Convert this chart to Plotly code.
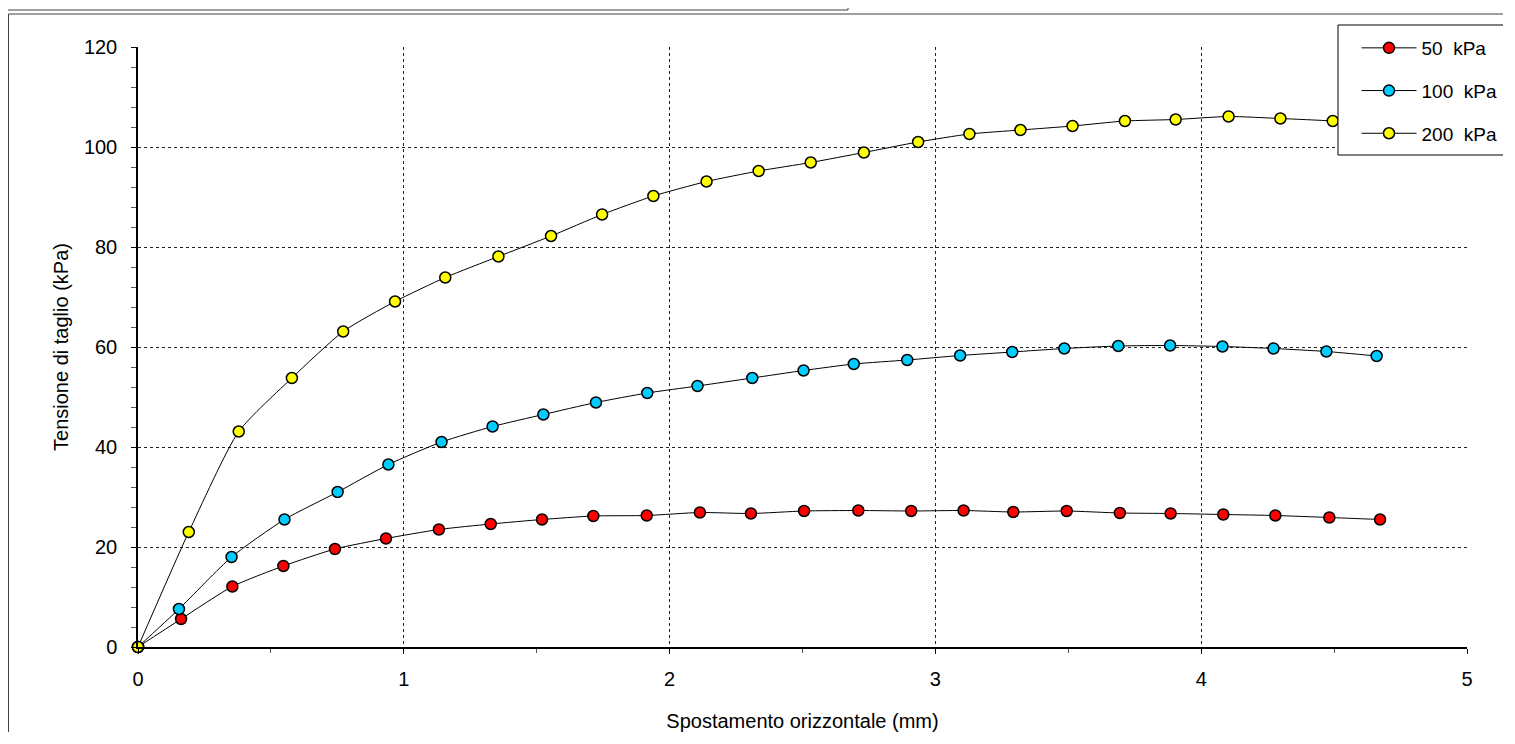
import plotly.graph_objects as go

# ---- data ----
x_50 = [0, 0.162, 0.355, 0.547, 0.741, 0.933, 1.132, 1.327, 1.520, 1.713, 1.914, 2.114, 2.306,
        2.506, 2.710, 2.909, 3.106, 3.293, 3.494, 3.694, 3.885, 4.083, 4.279, 4.482, 4.673]
y_50 = [0, 5.6, 12.1, 16.2, 19.6, 21.7, 23.5, 24.6, 25.5, 26.2, 26.3, 26.9, 26.7,
        27.2, 27.3, 27.2, 27.3, 27.0, 27.2, 26.8, 26.7, 26.5, 26.3, 25.9, 25.5]

x_100 = [0, 0.154, 0.352, 0.551, 0.751, 0.942, 1.142, 1.334, 1.525, 1.723, 1.916, 2.105, 2.311,
         2.504, 2.693, 2.894, 3.093, 3.289, 3.485, 3.688, 3.883, 4.080, 4.272, 4.471, 4.660]
y_100 = [0, 7.6, 18.0, 25.5, 31.0, 36.5, 41.0, 44.1, 46.5, 48.9, 50.8, 52.2, 53.8,
         55.3, 56.6, 57.4, 58.3, 59.0, 59.7, 60.2, 60.3, 60.1, 59.7, 59.1, 58.2]

x_200 = [0, 0.191, 0.379, 0.579, 0.772, 0.967, 1.156, 1.356, 1.554, 1.746, 1.939, 2.139, 2.335,
         2.531, 2.731, 2.935, 3.128, 3.320, 3.516, 3.713, 3.904, 4.103, 4.298, 4.495, 4.690]
y_200 = [0, 23.0, 43.1, 53.8, 63.1, 69.1, 73.9, 78.1, 82.2, 86.5, 90.2, 93.1, 95.2,
         96.9, 98.9, 101.0, 102.6, 103.4, 104.2, 105.2, 105.5, 106.1, 105.7, 105.2, 104.4]

series_names = ["50  kPa", "100  kPa", "200  kPa"]
series_colors = ["#FF0000", "#00CCFF", "#FFFF00"]
x_ticks = [0, 1, 2, 3, 4, 5]
y_ticks = [0, 20, 40, 60, 80, 100, 120]

FONT = "Arial, 'Liberation Sans', sans-serif"

fig = go.Figure()
for xs, ys, name, col in zip([x_50, x_100, x_200], [y_50, y_100, y_200], series_names, series_colors):
    fig.add_trace(go.Scatter(
        x=xs, y=ys, name=name, mode="lines+markers",
        line=dict(color="black", width=1, shape="spline", smoothing=0.6),
        marker=dict(color=col, size=11, line=dict(color="black", width=1.5)),
        cliponaxis=False, legendgroup=name,
    ))

# the page body has an 8px margin, so page coordinates = figure coordinates + 8
OFF = 8
W, H = 1495, 724
PX_L, PX_R, PX_T, PX_B = 138, 1467, 47, 647   # plot area in page pixels
L = PX_L - OFF
T = PX_T - OFF
R = W - (PX_R - OFF)
B = H - (PX_B - OFF)
pw, ph = PX_R - PX_L, PX_B - PX_T

def px(xp):
    return (xp - PX_L) / pw

def py(yp):
    return (PX_B - yp) / ph

fig.update_layout(
    width=W, height=H,
    margin=dict(l=L, r=R, t=T, b=B, autoexpand=False),
    paper_bgcolor="white", plot_bgcolor="white",
    font=dict(family=FONT, color="black"),
    showlegend=True,
    legend=dict(
        x=px(1356.5), y=py(29), xanchor="left", yanchor="top",
        bgcolor="rgba(0,0,0,0)", borderwidth=0,
        font=dict(family=FONT, size=19, color="black"),
        traceorder="grouped", tracegroupgap=15,
        itemwidth=55,
    ),
    xaxis=dict(
        range=[0, 5], tickvals=x_ticks, ticktext=[str(v) for v in x_ticks],
        showgrid=True, gridcolor="#222222", griddash="dot", gridwidth=1,
        zeroline=False, showline=True, linecolor="black", linewidth=1.5,
        ticks="outside", ticklen=5, tickcolor="black",
        tickfont=dict(size=20, family=FONT),
        ticklabelstandoff=8, automargin=False,
        minor=dict(dtick=0.5, ticks="outside", ticklen=4, tickcolor="#555555", showgrid=False),
        title=dict(text="Spostamento orizzontale (mm)", font=dict(size=20, family=FONT), standoff=30),
    ),
    yaxis=dict(
        range=[0, 120], tickvals=y_ticks, ticktext=[str(v) for v in y_ticks],
        showgrid=True, gridcolor="#222222", griddash="dot", gridwidth=1,
        zeroline=False, showline=True, linecolor="black", linewidth=1.5,
        ticks="outside", ticklen=5, tickcolor="black",
        tickfont=dict(size=20, family=FONT),
        ticklabelstandoff=10, automargin=False,
        minor=dict(dtick=4, ticks="outside", ticklen=5, tickcolor="#555555", showgrid=False),
        title=dict(text="Tensione di taglio (kPa)", font=dict(size=20, family=FONT), standoff=10),
    ),
    shapes=[
        # outer chart frame (extends past the page on the right and bottom)
        dict(type="rect", xref="paper", yref="paper",
             x0=px(8.5), x1=px(1540), y0=py(760), y1=py(14),
             line=dict(color="#404040", width=1), fillcolor="rgba(0,0,0,0)", layer="below"),
        # partial box above the chart
        dict(type="rect", xref="paper", yref="paper",
             x0=px(-20), x1=px(848), y0=py(10), y1=py(-20),
             line=dict(color="#404040", width=1), fillcolor="rgba(0,0,0,0)", layer="below"),
        # legend box (white, covers the curve behind it)
        dict(type="rect", xref="paper", yref="paper",
             x0=px(1338), x1=px(1540), y0=py(155), y1=py(25),
             line=dict(color="black", width=1), fillcolor="white", layer="above"),
    ],
)

fig.write_html("out.html")
